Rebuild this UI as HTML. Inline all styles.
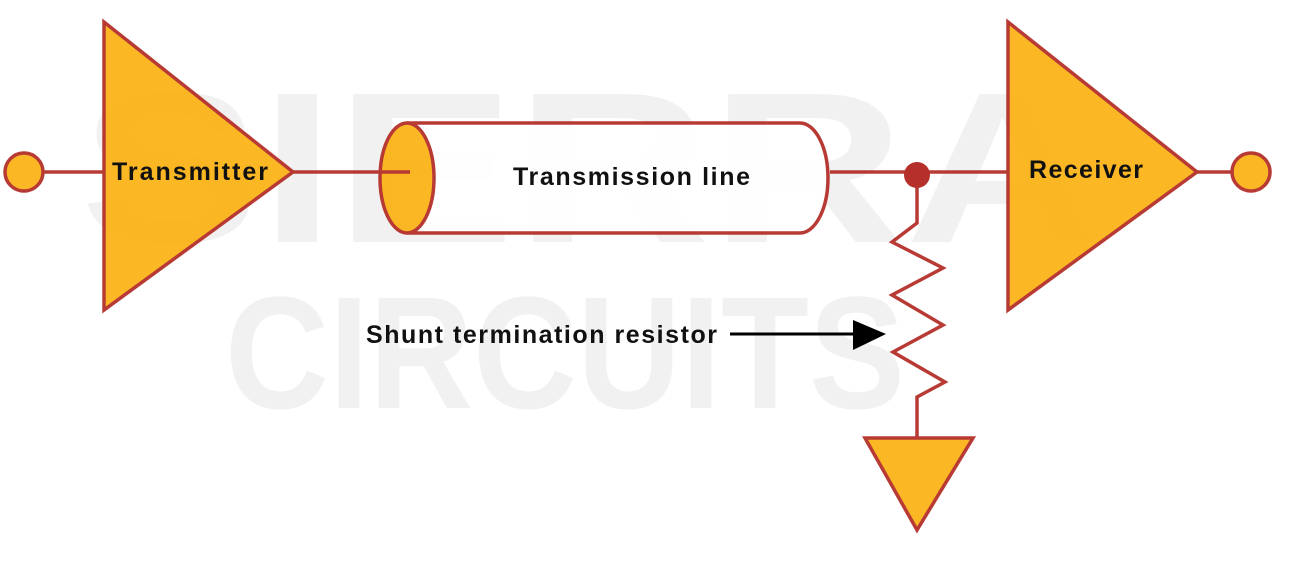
<!DOCTYPE html>
<html><head><style>
html,body{margin:0;padding:0;background:#fff;width:1290px;height:562px;overflow:hidden}
</style></head><body>
<svg width="1290" height="562" viewBox="0 0 1290 562" xmlns="http://www.w3.org/2000/svg">
<g font-family="Liberation Sans, sans-serif" font-weight="bold" fill="#f1f1f1">
<text x="590" y="242" font-size="215" text-anchor="middle" textLength="1020" lengthAdjust="spacingAndGlyphs">SIERRA</text>
<text x="565" y="408" font-size="160" text-anchor="middle" textLength="680" lengthAdjust="spacingAndGlyphs">CIRCUITS</text>
</g>
<g stroke="#b5302a" stroke-width="3.5" fill="#fbb419" opacity="0.95">
<line x1="44" y1="172" x2="104" y2="172"/>
<line x1="293" y1="172" x2="410" y2="172"/>
<line x1="830" y1="172" x2="1008" y2="172"/>
<line x1="1197" y1="172" x2="1231" y2="172"/>
<circle cx="24" cy="172" r="19"/>
<circle cx="1251" cy="172" r="19"/>
<polygon points="104,22 293,172 104,310"/>
<polygon points="1008,22 1197,172 1008,310"/>
<path d="M407,123 H800 A28,55 0 0 1 800,233 H407" fill="#fff"/>
<ellipse cx="407" cy="178" rx="27" ry="55"/>
<line x1="380" y1="172" x2="410" y2="172"/>
<polyline fill="none" points="917,172 917,223 892,242 943,268 892,295 943,325 893,352 945,382 917,397 917,438"/>
<polygon points="865,438 973,438 917,530"/>
</g>
<circle cx="917" cy="175" r="13" fill="#b5302a"/>
<line x1="730" y1="334" x2="860" y2="334" stroke="#000" stroke-width="3"/>
<polygon points="853,320 886,334 853,350" fill="#000"/>
<g font-family="Liberation Sans, sans-serif" font-size="25" font-weight="bold" fill="#111" lengthAdjust="spacingAndGlyphs">
<text x="112" y="180" textLength="156">Transmitter</text>
<text x="1029" y="178" textLength="114">Receiver</text>
<text x="513" y="185" textLength="237">Transmission line</text>
<text x="366" y="343" textLength="351">Shunt termination resistor</text>
</g>
</svg>
</body></html>
